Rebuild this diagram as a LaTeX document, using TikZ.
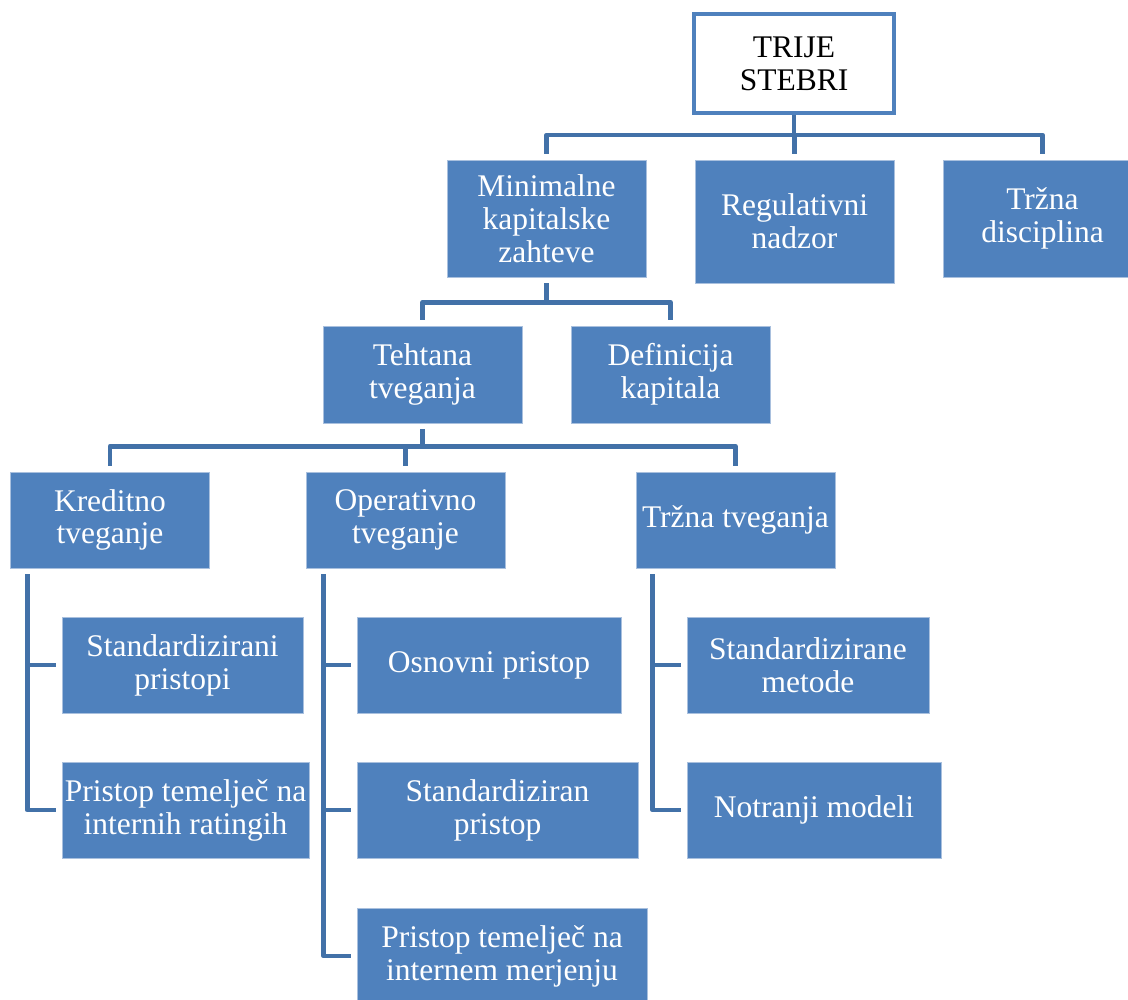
\documentclass[tikz,border=0pt]{standalone}
\usepackage{fontspec}
\setmainfont{Liberation Serif}
\definecolor{boxblue}{HTML}{4F81BD}
\definecolor{linkblue}{HTML}{4271A8}
\definecolor{edgeblue}{HTML}{A9C0DE}

\begin{document}
\begin{tikzpicture}[
        x=0.025cm, y=0.025cm,
        block/.style={rectangle, draw=edgeblue, line width=0.4pt, fill=boxblue, text=white, align=center, inner sep=0pt, minimum width=4.975cm, minimum height=2.4cm, font=\fontsize{22.4}{23.4}\selectfont},
        rootblock/.style={block, draw=boxblue, line width=2.8pt, fill=white, text=black},
        link/.style={draw=linkblue, line width=3.4pt, line join=round, shorten <=0.15cm, shorten >=0.15cm}
    ]
    \useasboundingbox (0,0) rectangle (1128,-999);
    \clip (0,0) rectangle (1128,-999);

    % Pillars
    \node (trije) at (794,-63.5) [rootblock, minimum width=5cm, minimum height=2.48cm] {TRIJE\\STEBRI};
    \node (minimalne) at (546.5,-218.5) [block, minimum height=2.925cm] {Minimalne\\kapitalske\\zahteve};
    \node (regulativni) at (794.5,-221.5) [block, minimum height=3.075cm] {Regulativni\\nadzor};
    \node (trzna_dis) at (1042.5,-218.5) [block, minimum height=2.925cm] {Tržna\\disciplina};

    % Capital requirements
    \node (tehtana) at (422.5,-374.5) [block, minimum height=2.425cm] {Tehtana\\tveganja};
    \node (definicija) at (670.5,-374.5) [block, minimum height=2.425cm] {Definicija\\kapitala};

    % Risks
    \node (kreditno) at (110,-520) [block] {Kreditno\\tveganje};
    \node (operativno) at (405.5,-520) [block] {Operativno\\tveganje};
    \node (trzna_tv) at (735.5,-520) [block] {Tržna tveganja};

    % Approaches
    \node (std_pristopi) at (182.5,-665) [block, minimum width=6.025cm] {Standardizirani\\pristopi};
    \node (irb) at (185.5,-810) [block, minimum width=6.175cm] {Pristop temelječ na\\internih ratingih};
    \node (osnovni) at (489,-665) [block, minimum width=6.6cm] {Osnovni pristop};
    \node (std_pristop) at (497.5,-810) [block, minimum width=7.025cm] {Standardiziran\\pristop};
    \node (merjenje) at (502,-956) [block, minimum width=7.25cm] {Pristop temelječ na\\internem merjenju};
    \node (std_metode) at (808,-665) [block, minimum width=6.05cm] {Standardizirane\\metode};
    \node (notranji) at (814,-810) [block, minimum width=6.35cm] {Notranji modeli};

    % Tree links
    \foreach \child in {minimalne, regulativni, trzna_dis}
        \draw[link, shorten <=0pt] (trije.south) -- ++(0,-20) -| (\child.north);
    \foreach \child in {tehtana, definicija}
        \draw[link] (minimalne.south) -- ++(0,-25) -| (\child.north);
    \foreach \child in {kreditno, operativno, trzna_tv}
        \draw[link] (tehtana.south) -- ++(0,-23) -| (\child.north);

    % Side links
    \foreach \child in {std_pristopi, irb}
        \draw[link] ([xshift=0.425cm]kreditno.south west) |- (\child.west);
    \foreach \child in {osnovni, std_pristop, merjenje}
        \draw[link] ([xshift=0.45cm]operativno.south west) |- (\child.west);
    \foreach \child in {std_metode, notranji}
        \draw[link] ([xshift=0.425cm]trzna_tv.south west) |- (\child.west);
\end{tikzpicture}
\end{document}
